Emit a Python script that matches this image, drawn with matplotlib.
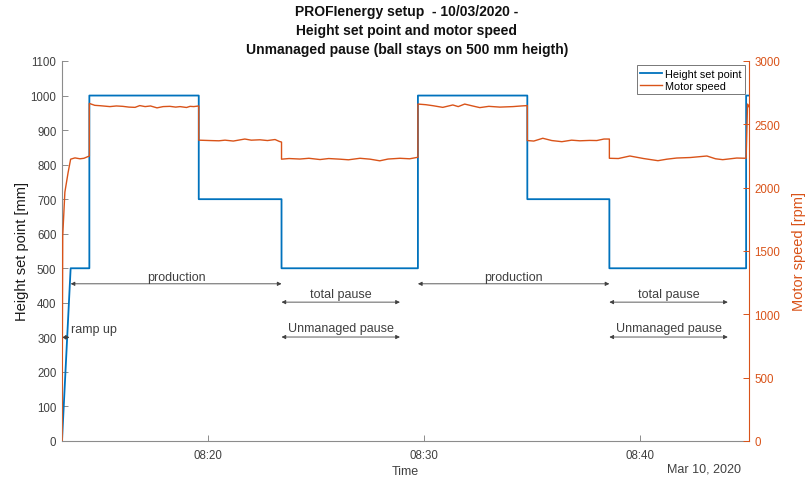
import pandas as pd
import matplotlib.pyplot as plt
import matplotlib.dates as mdates
from matplotlib.lines import Line2D

plt.rcParams['font.family'] = ['Liberation Sans', 'DejaVu Sans']

day = "2020-03-10 "

# height set point: linear ramp, then steps (time of change, new level)
ramp_times = ["08:13:14", "08:13:38"]
ramp_mm = [0, 500]
step_times = ["08:14:30", "08:19:34", "08:23:24", "08:29:43", "08:34:47", "08:38:35", "08:44:55"]
step_mm = [1000, 700, 500, 1000, 700, 500, 1000]
end_time = "08:45:03"

# motor speed
speed_times = [
    "08:13:14", "08:13:16", "08:13:22", "08:13:31", "08:13:38", "08:13:50", "08:14:04", "08:14:15", "08:14:30",
    "08:14:30", "08:14:45", "08:15:00", "08:15:27", "08:15:45", "08:16:03", "08:16:20", "08:16:37", "08:16:50",
    "08:17:05", "08:17:20", "08:17:38", "08:17:55", "08:18:14", "08:18:30", "08:18:42", "08:19:00", "08:19:10",
    "08:19:20", "08:19:34",
    "08:19:34", "08:20:05", "08:20:30", "08:20:47", "08:21:10", "08:21:42", "08:22:00", "08:22:24", "08:22:45",
    "08:23:06", "08:23:18", "08:23:24",
    "08:23:24", "08:23:45", "08:24:15", "08:24:40", "08:25:11", "08:25:35", "08:26:06", "08:26:30", "08:27:02",
    "08:27:30", "08:27:57", "08:28:20", "08:28:53", "08:29:20", "08:29:43",
    "08:29:43", "08:30:05", "08:30:25", "08:30:52", "08:31:20", "08:31:35", "08:31:53", "08:32:15", "08:32:35",
    "08:33:00", "08:33:31", "08:34:07", "08:34:30", "08:34:47",
    "08:34:47", "08:35:05", "08:35:30", "08:35:55", "08:36:23", "08:36:50", "08:37:13", "08:37:40", "08:38:00",
    "08:38:20", "08:38:35",
    "08:38:35", "08:39:00", "08:39:32", "08:40:10", "08:40:50", "08:41:15", "08:41:42", "08:42:20", "08:43:06",
    "08:43:30", "08:43:50", "08:44:29", "08:44:55",
    "08:44:59", "08:45:02",
]
speed_rpm = [
    0, 1620, 1965, 2120, 2225, 2235, 2228, 2232, 2250,
    2665, 2650, 2647, 2640, 2645, 2642, 2636, 2634, 2648,
    2640, 2645, 2630, 2640, 2642, 2636, 2640, 2633, 2642,
    2640, 2645,
    2375, 2372, 2370, 2375, 2368, 2384, 2375, 2378, 2372,
    2380, 2365, 2360,
    2225, 2230, 2226, 2232, 2222, 2230, 2225, 2220, 2232,
    2225, 2212, 2226, 2232, 2228, 2240,
    2660, 2655, 2647, 2634, 2653, 2640, 2660, 2645, 2632,
    2642, 2636, 2640, 2645, 2648,
    2372, 2368, 2390, 2372, 2363, 2375, 2370, 2373, 2372,
    2384, 2384,
    2232, 2230, 2250, 2230, 2213, 2225, 2234, 2238, 2250,
    2228, 2221, 2234, 2232,
    2660, 2640,
]

tick_times = ["08:20", "08:30", "08:40"]


def t(s):
    return pd.to_datetime(day + s)


# build the height polyline from the ramp and the steps
hx = [t(s) for s in ramp_times]
hy = list(ramp_mm)
for s, v in zip(step_times, step_mm):
    hx += [t(s), t(s)]
    hy += [hy[-1], v]
hx.append(t(end_time))
hy.append(hy[-1])

blue = '#0072BD'
orange = '#D95319'
dark = '#404040'
grey = '#8c8c8c'

fig = plt.figure(figsize=(8.07, 4.81), dpi=100)
ax = fig.add_axes([62 / 807, 39 / 481, 687 / 807, 380 / 481])
ax2 = ax.twinx()

ax.plot(hx, hy, color=blue, lw=1.3)
ax2.plot([t(s) for s in speed_times], speed_rpm, color=orange, lw=1.0)

ax.set_xlim(t(ramp_times[0]), t(end_time))
ax.set_ylim(0, 1100)
ax.set_yticks(range(0, 1101, 100))
ax2.set_ylim(0, 3000)
ax2.set_yticks(range(0, 3001, 500))
ax.set_xticks([t(s) for s in tick_times])
ax.xaxis.set_major_formatter(mdates.DateFormatter('%H:%M'))

for a in (ax, ax2):
    a.spines['top'].set_visible(False)
ax.spines['right'].set_visible(False)
ax2.spines['left'].set_visible(False)
ax2.spines['bottom'].set_visible(False)
ax.spines['left'].set_color(grey)
ax.spines['bottom'].set_color(grey)
ax2.spines['right'].set_color(orange)

ax.tick_params(direction='in', length=4, width=0.7, color=grey, labelcolor=dark, labelsize=8.3, pad=4)
ax.tick_params(axis='x', pad=6)
ax2.tick_params(direction='in', length=4, width=0.7, color=orange, labelcolor=orange, labelsize=8.3, pad=4)

ax.set_ylabel("Height set point [mm]", fontsize=10.5, color='#1a1a1a', labelpad=1)
ax2.set_ylabel("Motor speed [rpm]", fontsize=10.5, color=orange, labelpad=8)
ax.set_xlabel("Time", fontsize=9, color=dark, labelpad=3)
fig.text(741 / 807, 1 - 470 / 481, "Mar 10, 2020", ha='right', va='center', fontsize=9, color=dark)

fig.text(407 / 807, 1 - 5 / 481,
         "PROFIenergy setup  - 10/03/2020 -\nHeight set point and motor speed\n"
         "Unmanaged pause (ball stays on 500 mm heigth)",
         ha='center', va='top', fontsize=10, fontweight='bold', color='#111111', linespacing=1.45)

# phase annotations
arrow = dict(arrowstyle='<|-|>', color=dark, lw=0.6, mutation_scale=6, shrinkA=0, shrinkB=0)


def span(label, x1, x2, y, ty):
    ax.annotate('', xy=(t(x2), y), xytext=(t(x1), y), arrowprops=arrow)
    mid = t(x1) + (t(x2) - t(x1)) / 2
    ax.text(mid, ty, label, ha='center', va='center', fontsize=9, color=dark)


span("production", "08:13:38", "08:23:24", 455, 476)
span("production", "08:29:43", "08:38:35", 455, 476)
span("total pause", "08:23:24", "08:28:53", 402, 425)
span("total pause", "08:38:35", "08:44:04", 402, 425)
span("Unmanaged pause", "08:23:24", "08:28:53", 301, 327)
span("Unmanaged pause", "08:38:35", "08:44:04", 301, 327)
ax.annotate('', xy=(t("08:13:35"), 300), xytext=(t("08:13:14"), 300), arrowprops=arrow)
ax.text(t("08:13:40"), 324, "ramp up", ha='left', va='center', fontsize=9, color=dark)

handles = [Line2D([], [], color=blue, lw=1.3), Line2D([], [], color=orange, lw=1.0)]
leg = ax2.legend(handles, ["Height set point", "Motor speed"], loc='upper right', fontsize=7.8,
                 fancybox=False, framealpha=1, edgecolor='#777777', borderaxespad=0.4,
                 handlelength=2.0, handletextpad=0.3, borderpad=0.3, labelspacing=0.2)
leg.get_frame().set_linewidth(0.7)

fig.savefig("out.png", dpi=100)
